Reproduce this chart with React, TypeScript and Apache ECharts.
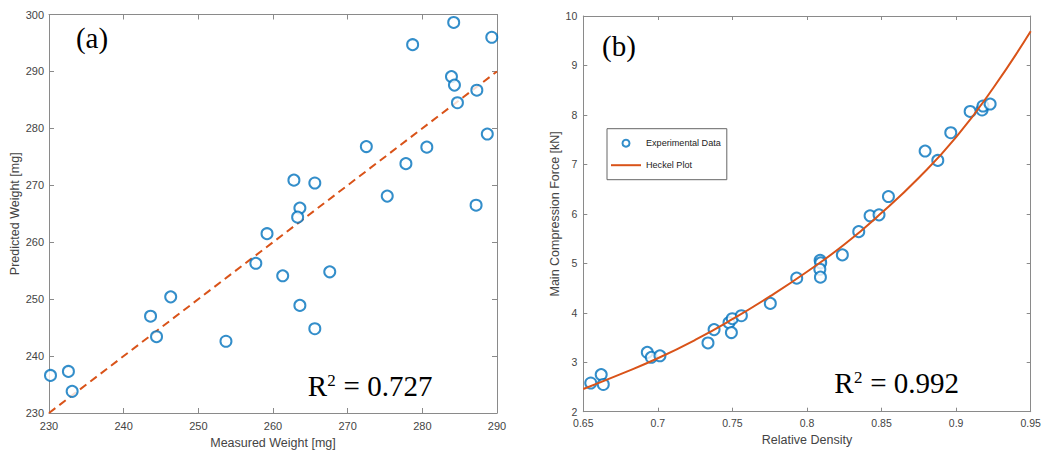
import React, { useEffect, useRef } from "react";
import * as echarts from "echarts";

// Panel (a): measured vs predicted weight [mg]
const aMeasured = [230.2, 232.6, 233.1, 243.6, 244.4, 246.3, 253.7, 257.7, 259.2, 261.3, 263.6, 265.6, 267.6, 262.8, 263.6, 263.3, 265.6, 272.5, 275.3, 277.8, 278.7, 280.6, 284.2, 283.9, 284.3, 284.7, 287.3, 287.2, 288.7, 289.3];
const aPredicted = [236.6, 237.3, 233.8, 247.0, 243.4, 250.4, 242.6, 256.3, 261.5, 254.1, 248.9, 244.8, 254.8, 270.9, 266.0, 264.4, 270.4, 276.8, 268.1, 273.8, 294.7, 276.7, 298.6, 289.1, 287.6, 284.5, 286.7, 266.5, 279.0, 296.0];
const aIdentityX = [230, 290];
const aIdentityY = [230, 290];

// Panel (b): relative density vs main compression force [kN]
const bDensity = [0.655, 0.662, 0.6634, 0.6929, 0.6956, 0.7014, 0.7336, 0.7377, 0.7477, 0.7499, 0.7493, 0.756, 0.7754, 0.7931, 0.8088, 0.8092, 0.8086, 0.809, 0.8237, 0.8347, 0.8423, 0.8483, 0.8546, 0.8792, 0.8877, 0.8964, 0.9094, 0.9174, 0.918, 0.9228];
const bForce = [2.58, 2.75, 2.55, 3.2, 3.1, 3.13, 3.39, 3.66, 3.8, 3.88, 3.6, 3.94, 4.19, 4.7, 5.06, 5.01, 4.88, 4.72, 5.17, 5.64, 5.96, 5.98, 6.35, 7.27, 7.08, 7.64, 8.07, 8.1, 8.18, 8.22];
const heckelDensity = [0.65, 0.675, 0.7, 0.725, 0.75, 0.775, 0.8, 0.825, 0.85, 0.875, 0.9, 0.925, 0.95];
const heckelForce = [2.46, 2.76, 3.08, 3.45, 3.87, 4.33, 4.83, 5.38, 6.02, 6.73, 7.55, 8.55, 9.69];

const aXRange = [230, 290, 10];
const aYRange = [230, 300, 10];
const bXRange = [0.65, 0.95, 0.05];
const bYRange = [2, 10, 1];

const BLUE = "#0072BD";
const ORANGE = "#D95319";
const AXIS = "#8a8a8a";
const LABEL = "#444444";
const SANS = "'Liberation Sans', Arial, sans-serif";
const SERIF = "'Liberation Serif', 'Times New Roman', serif";

function makeAxis(grid: number, range: number[], pos: string, showLabels: boolean, name: string, nameGap: number, tickLen: number, fontSize: number, margin: number) {
  return {
    type: "value",
    gridIndex: grid,
    position: pos,
    min: range[0],
    max: range[1],
    interval: range[2],
    name: showLabels ? name : "",
    nameLocation: "middle",
    nameGap,
    nameTextStyle: { fontFamily: SANS, fontSize: 12.5, color: LABEL },
    axisLine: { show: true, onZero: false, lineStyle: { color: AXIS, width: 1 } },
    axisTick: { show: true, inside: true, length: tickLen, lineStyle: { color: AXIS } },
    axisLabel: { show: showLabels, fontFamily: SANS, fontSize, color: LABEL, margin },
    splitLine: { show: false },
  };
}

function rSquared(x: number, y: number, value: string) {
  return {
    type: "group",
    children: [
      { type: "text", x, y, style: { text: "R", font: `29px ${SERIF}`, fill: "#000", align: "left", verticalAlign: "middle" } },
      { type: "text", x: x + 19.6, y: y - 5.2, style: { text: "2", font: `17px ${SERIF}`, fill: "#000", align: "left", verticalAlign: "middle" } },
      { type: "text", x: x + 28.6, y, style: { text: ` = ${value}`, font: `29px ${SERIF}`, fill: "#000", align: "left", verticalAlign: "middle" } },
    ],
  };
}

export default function App() {
  const ref = useRef<HTMLDivElement>(null);
  useEffect(() => {
    document.body.style.margin = "0";
    if (!ref.current) return;
    const chart = echarts.init(ref.current, undefined, { renderer: "svg" });
    const scatterA = aMeasured.map((x, i) => [x, aPredicted[i]]);
    const lineA = aIdentityX.map((x, i) => [x, aIdentityY[i]]);
    const scatterB = bDensity.map((x, i) => [x, bForce[i]]);
    const lineB = heckelDensity.map((x, i) => [x, heckelForce[i]]);
    chart.setOption({
      animation: false,
      backgroundColor: "#ffffff",
      grid: [
        { left: 49, top: 14.5, width: 448, height: 398.5 },
        { left: 583.3, top: 16, width: 447.4, height: 395.7 },
      ],
      xAxis: [
        makeAxis(0, aXRange, "bottom", true, "Measured Weight [mg]", 23, 5, 11, 7),
        makeAxis(0, aXRange, "top", false, "", 0, 5, 11, 7),
        makeAxis(1, bXRange, "bottom", true, "Relative Density", 21, 4, 10.5, 6),
        makeAxis(1, bXRange, "top", false, "", 0, 4, 10.5, 6),
      ],
      yAxis: [
        makeAxis(0, aYRange, "left", true, "Predicted Weight [mg]", 26, 5, 11, 5),
        makeAxis(0, aYRange, "right", false, "", 0, 5, 11, 5),
        makeAxis(1, bYRange, "left", true, "Main Compression Force [kN]", 21, 4, 10.5, 6),
        makeAxis(1, bYRange, "right", false, "", 0, 4, 10.5, 6),
      ],
      legend: {
        left: 607,
        top: 128.7,
        orient: "vertical",
        backgroundColor: "#ffffff",
        borderColor: "#666666",
        borderWidth: 1,
        borderRadius: 0,
        padding: [10, 6, 10, 4],
        itemGap: 13,
        itemWidth: 30,
        itemHeight: 7,
        textStyle: { fontFamily: SANS, fontSize: 9.1, color: "#222222" },
        data: [
          { name: "Experimental Data", icon: "emptyCircle", itemStyle: { borderWidth: 2.2 } },
          { name: "Heckel Plot", icon: "path://M0,0 L30,0 L30,2 L0,2 Z", itemStyle: { color: ORANGE, borderWidth: 0 } },
        ],
      },
      series: [
        {
          name: "Identity",
          type: "line",
          xAxisIndex: 0,
          yAxisIndex: 0,
          data: lineA,
          symbol: "none",
          lineStyle: { color: ORANGE, width: 2, type: [8, 5] },
          z: 2,
        },
        {
          name: "Predictions",
          type: "scatter",
          xAxisIndex: 0,
          yAxisIndex: 0,
          data: scatterA,
          symbol: "emptyCircle",
          symbolSize: 11,
          itemStyle: { color: BLUE, borderColor: BLUE, borderWidth: 2.2 },
          z: 3,
        },
        {
          name: "Heckel Plot",
          type: "line",
          xAxisIndex: 2,
          yAxisIndex: 2,
          data: lineB,
          smooth: true,
          symbol: "none",
          showSymbol: false,
          color: ORANGE,
          lineStyle: { color: ORANGE, width: 2 },
          z: 3,
        },
        {
          name: "Experimental Data",
          type: "scatter",
          xAxisIndex: 2,
          yAxisIndex: 2,
          data: scatterB,
          symbol: "emptyCircle",
          symbolSize: 11,
          itemStyle: { color: BLUE, borderColor: BLUE, borderWidth: 2.2 },
          z: 2,
        },
      ],
      graphic: [
        { type: "text", x: 92, y: 37.5, style: { text: "(a)", font: `29px ${SERIF}`, fill: "#000", align: "center", verticalAlign: "middle" } },
        { type: "text", x: 619, y: 45.5, style: { text: "(b)", font: `29px ${SERIF}`, fill: "#000", align: "center", verticalAlign: "middle" } },
        rSquared(307.7, 385.5, "0.727"),
        rSquared(834.3, 382.8, "0.992"),
      ],
    });
    return () => chart.dispose();
  }, []);
  return <div ref={ref} style={{ width: 1050, height: 459 }} />;
}
